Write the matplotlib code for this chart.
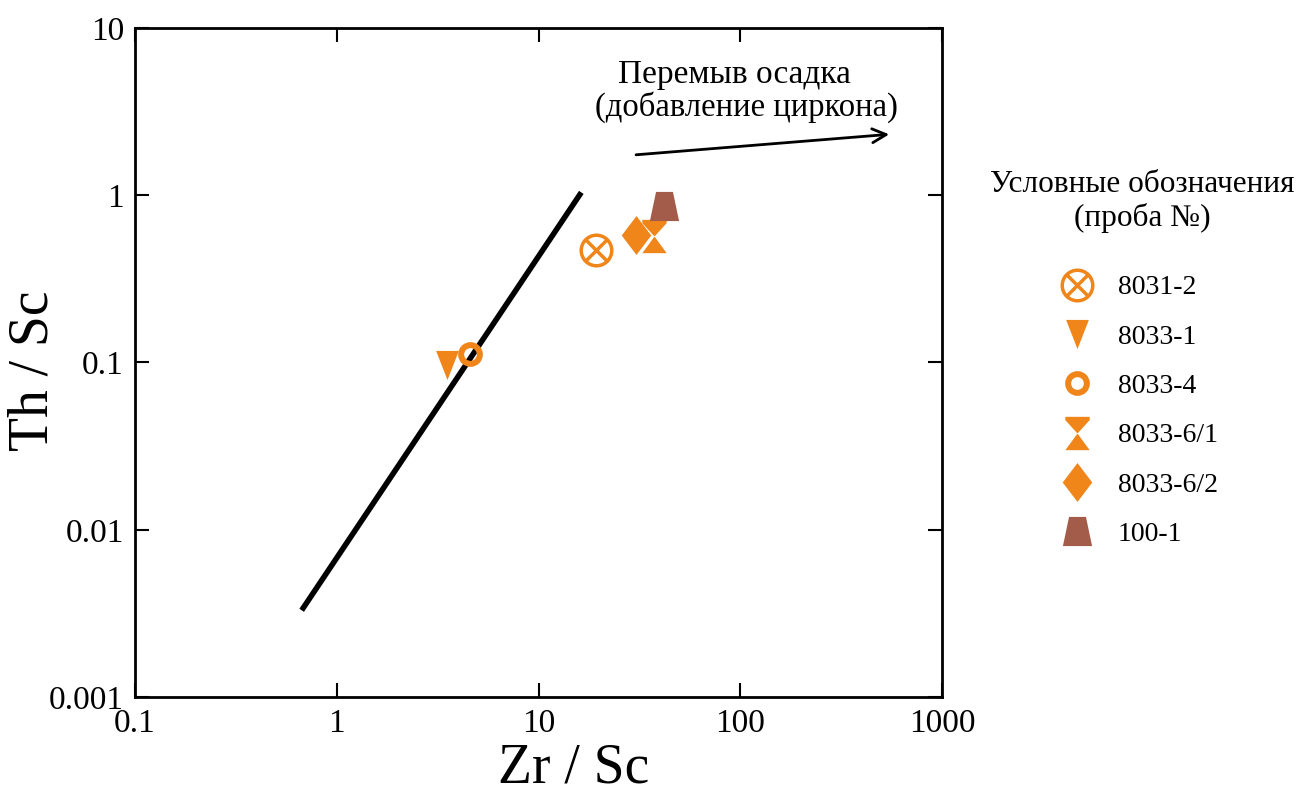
import numpy as np
import matplotlib
matplotlib.use('Agg')
import matplotlib.pyplot as plt
from matplotlib.path import Path
from matplotlib.ticker import FixedLocator, FixedFormatter, NullLocator

plt.rcParams['font.family'] = ['Liberation Serif', 'DejaVu Serif']

# -----------------------------
# Data
# -----------------------------
samples = ['8031-2', '8033-1', '8033-4', '8033-6/1', '8033-6/2', '100-1']
zr_sc = [19.2, 3.5, 4.55, 37.5, 30.5, 42.0]
th_sc = [0.47, 0.096, 0.113, 0.57, 0.58, 0.86]

trend_x = [0.67, 16.3]
trend_y = [0.0033, 1.04]

arrow_start = (29.5, 1.74)
arrow_end = (565, 2.32)

xticks = [0.1, 1, 10, 100, 1000]
xlabels = ['0.1', '1', '10', '100', '1000']
yticks = [0.001, 0.01, 0.1, 1, 10]
ylabels = ['0.001', '0.01', '0.1', '1', '10']

orange = '#F0851A'
brown = '#A35C4A'

# -----------------------------
# Custom markers
# -----------------------------
d = 0.7071
circle_x = Path.make_compound_path(
    Path.unit_circle(),
    Path([(-d, -d), (d, d), (-d, d), (d, -d)],
         [Path.MOVETO, Path.LINETO, Path.MOVETO, Path.LINETO]))
hourglass = Path.make_compound_path(
    Path([(-0.73, 1), (0.73, 1), (0.73, 0.8), (0, 0), (-0.73, 0.8), (-0.73, 1)],
         closed=True),
    Path([(-0.73, -1), (0.73, -1), (0, 0), (-0.73, -1)], closed=True))
tri_down = Path([(-0.78, 1), (0.78, 1), (0, -1), (-0.78, 1)], closed=True)
diamond = Path([(0, 1), (0.76, 0), (0, -1), (-0.76, 0), (0, 1)], closed=True)
trapezoid = Path([(-0.58, 1), (0.58, 1), (1, -1), (-1, -1), (-0.58, 1)], closed=True)

styles = [
    dict(marker=circle_x, markersize=22, markerfacecolor='none',
         markeredgecolor=orange, markeredgewidth=2.5),
    dict(marker=tri_down, markersize=21, color=orange, markeredgewidth=0),
    dict(marker='o', markersize=13.5, markerfacecolor='none',
         markeredgecolor=orange, markeredgewidth=4.3),
    dict(marker=hourglass, markersize=24, color=orange, markeredgewidth=0),
    dict(marker=diamond, markersize=28, color=orange, markeredgewidth=0),
    dict(marker=trapezoid, markersize=21, color=brown, markeredgewidth=0),
]

# -----------------------------
# Plot
# -----------------------------
fig = plt.figure(figsize=(13.02, 8), dpi=100)
ax = fig.add_axes([0.1037, 0.12875, 0.6198, 0.83625])

ax.plot(trend_x, trend_y, color='black', linewidth=4, solid_capstyle='butt')

handles = []
for name, x, y, st in zip(samples, zr_sc, th_sc, styles):
    h, = ax.plot([x], [y], linestyle='none', label=name, **st)
    handles.append(h)

ax.annotate('', xy=arrow_end, xytext=arrow_start,
            arrowprops=dict(arrowstyle='->', color='black', lw=2,
                            mutation_scale=25))
fig.text(734 / 1302, 1 - 75 / 800, 'Перемыв осадка', fontsize=24,
         ha='center', va='center')
fig.text(746 / 1302, 1 - 107 / 800, '(добавление циркона)', fontsize=23.5,
         ha='center', va='center')

ax.set_xscale('log')
ax.set_yscale('log')
ax.set_xlim(0.1, 1000)
ax.set_ylim(0.001, 10)
ax.xaxis.set_major_locator(FixedLocator(xticks))
ax.xaxis.set_major_formatter(FixedFormatter(xlabels))
ax.yaxis.set_major_locator(FixedLocator(yticks))
ax.yaxis.set_major_formatter(FixedFormatter(ylabels))
ax.xaxis.set_minor_locator(NullLocator())
ax.yaxis.set_minor_locator(NullLocator())
ax.tick_params(which='major', direction='in', length=10, width=1.5,
               top=True, right=True, labelsize=24, pad=8)
for sp in ax.spines.values():
    sp.set_linewidth(2)

ax.set_xlabel('Zr / Sc', fontsize=40)
ax.set_ylabel('Th / Sc', fontsize=40)
ax.xaxis.set_label_coords(0.543, -0.068)
ax.yaxis.set_label_coords(-0.093, 0.487)

# legend
fig.text(1142 / 1302, 1 - 185 / 800, 'Условные обозначения', fontsize=22.5,
         ha='center', va='center')
fig.text(1142 / 1302, 1 - 218 / 800, '(проба №)', fontsize=22.5,
         ha='center', va='center')
fig.legend(handles=handles, loc='upper left',
           bbox_to_anchor=(1057.5 / 1302, 1 - 275 / 800), frameon=False,
           fontsize=20, labelspacing=0.86, handlelength=1.4,
           handletextpad=0.77, borderpad=0, borderaxespad=0)

fig.savefig('out.png', dpi=100)
